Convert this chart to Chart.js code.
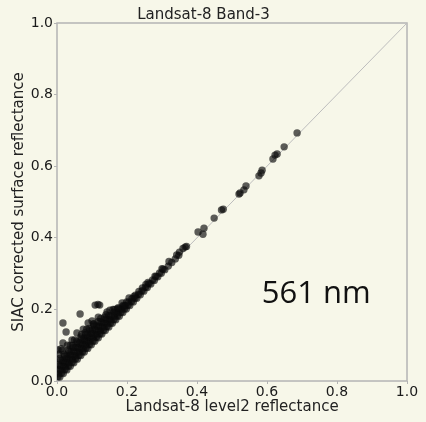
<!DOCTYPE html>
<html>
<head>
<meta charset="utf-8">
<script src="https://cdn.jsdelivr.net/npm/chart.js@4/dist/chart.umd.min.js"></script>
<style>
  html, body { margin: 0; padding: 0; background: #f7f7e9; }
  #wrap { width: 426px; height: 422px; }
</style>
</head>
<body>
<div id="wrap"><canvas id="scatter" width="426" height="422"></canvas></div>
<script>
// Landsat-8 level2 reflectance (x) vs SIAC corrected surface reflectance (y), band 3
// dense band close to the 1:1 line
const bandX = [
  0.008,0.018,0.028,0.038,0.048,0.058,0.068,0.078,0.088,0.098,0.108,0.118,0.128,0.138,0.148,0.158,0.168,
  0.178,0.188,0.198,0.208,0.218,0.228,0.238,0.248,0.258,0.268,0.278,0.288,0.298,0.308,0.318,0.328,0.338,0.348,
  0.003,0.013,0.023,0.033,0.043,0.053,0.063,0.073,0.083,0.093,0.103,0.113,0.123,0.133,0.143,0.153,0.163,
  0.173,0.183,0.193,0.203,0.213,0.223,0.233,0.243,0.253,0.263,0.273,0.283,0.293,0.303,
  0.004,0.014,0.024,0.034,0.044,0.054,0.064,0.074,0.084,0.094,0.104,0.114,0.124,0.134,0.144,0.154,0.164,
  0.174,0.184,0.194,0.204,0.214,0.224,0.234,0.244,0.254,
  0.009,0.019,0.029,0.039,0.049,0.059,0.069,0.079,0.089,0.099,0.109,0.119,0.129,0.139,0.149,0.159,0.169,
  0.179,0.189,0.199,
  0.003,0.013,0.023,0.033,0.043,0.053,0.063,0.073,0.083,0.093,0.103,0.113,0.123,0.133,0.143,0.153,0.163,0.173,
  0.008,0.018,0.028,0.038,0.048,0.058,0.068,0.078,0.088,0.098,0.108,0.118,0.128,0.138,0.148,
  0.004,0.016,0.028,0.040,0.052,0.064,0.076,0.088,0.100,0.112,0.124,0.136,
  0.010,0.022,0.034,0.046,0.058,0.070,0.082,0.094,0.106,0.118,
  0.008,0.020,0.032,0.044,0.056,0.068,0.080,0.092,0.104
];
const bandY = [
  0.011,0.021,0.031,0.041,0.051,0.061,0.071,0.081,0.091,0.101,0.111,0.121,0.131,0.141,0.151,0.161,0.171,
  0.181,0.191,0.201,0.211,0.221,0.231,0.241,0.251,0.261,0.271,0.281,0.291,0.301,0.311,0.321,0.331,0.341,0.351,
  0.012,0.022,0.032,0.042,0.052,0.062,0.072,0.082,0.092,0.102,0.112,0.122,0.132,0.142,0.152,0.162,0.172,
  0.182,0.192,0.202,0.212,0.222,0.232,0.242,0.252,0.262,0.272,0.282,0.292,0.302,0.312,
  0.020,0.030,0.040,0.050,0.060,0.070,0.080,0.090,0.100,0.110,0.120,0.130,0.140,0.150,0.160,0.170,0.180,
  0.190,0.200,0.210,0.220,0.230,0.240,0.250,0.260,0.270,
  0.031,0.041,0.051,0.061,0.071,0.081,0.091,0.101,0.111,0.121,0.131,0.141,0.151,0.161,0.171,0.181,0.191,
  0.201,0.211,0.221,
  0.032,0.042,0.052,0.062,0.072,0.082,0.092,0.102,0.112,0.122,0.132,0.142,0.152,0.162,0.172,0.182,0.192,0.202,
  0.043,0.053,0.063,0.073,0.083,0.093,0.103,0.113,0.123,0.133,0.143,0.153,0.163,0.173,0.183,
  0.046,0.058,0.070,0.082,0.094,0.106,0.118,0.130,0.142,0.154,0.166,0.178,
  0.058,0.070,0.082,0.094,0.106,0.118,0.130,0.142,0.154,0.166,
  0.063,0.075,0.087,0.099,0.111,0.123,0.135,0.147,0.159
];
// scattered points: halo above the band, outliers and the sparse bright pixels
const sparseX = [
  0.005,0.012,0.003,0.017,0.026,0.017,0.043,0.038,0.057,0.066,0.075,0.089,0.100,0.109,0.117,0.122,0.118,
  0.143,0.151,0.160,0.186,0.206,0.190,0.220,0.260,0.280,0.300,0.320,0.342,0.350,0.360,0.366,0.370,
  0.015,0.030,0.050,0.070,0.085,0.105,0.125,0.140,0.165,0.175,
  0.403,0.417,0.420,0.449,0.470,0.475,0.520,0.523,0.534,0.540,0.577,0.583,0.586,0.617,0.623,0.629,0.649,0.686
];
const sparseY = [
  0.075,0.090,0.087,0.106,0.137,0.162,0.115,0.100,0.134,0.187,0.145,0.162,0.168,0.212,0.214,0.212,0.178,
  0.193,0.198,0.200,0.218,0.232,0.208,0.236,0.275,0.293,0.314,0.334,0.352,0.360,0.370,0.374,0.376,
  0.085,0.100,0.115,0.130,0.145,0.160,0.175,0.185,0.200,0.205,
  0.416,0.410,0.427,0.455,0.478,0.480,0.522,0.525,0.534,0.545,0.573,0.581,0.589,0.620,0.631,0.634,0.654,0.693
];
const oneToOne = [0, 1];
const axisTicks = [0, 0.2, 0.4, 0.6, 0.8, 1.0];
const bandLabel = '561 nm';

const points = bandX.map((x, i) => ({ x, y: bandY[i] }))
  .concat(sparseX.map((x, i) => ({ x, y: sparseY[i] })));

const tickFont = { family: 'DejaVu Sans', size: 14 };
const titleFont = { family: 'DejaVu Sans', size: 15, weight: 'normal' };

// box around the plot area + the wavelength label
const frame = {
  id: 'frame',
  beforeDatasetsDraw(chart) {
    const { ctx, chartArea: a } = chart;
    ctx.save();
    ctx.strokeStyle = '#b4b4b4';
    ctx.lineWidth = 1.5;
    ctx.strokeRect(a.left, a.top, a.right - a.left, a.bottom - a.top);
    ctx.restore();
  },
  afterDraw(chart) {
    const { ctx, scales } = chart;
    ctx.save();
    ctx.fillStyle = '#111';
    ctx.font = '31px "Open Sans"';
    ctx.textAlign = 'left';
    ctx.textBaseline = 'alphabetic';
    ctx.fillText(bandLabel, scales.x.getPixelForValue(0.585), scales.y.getPixelForValue(0.218));
    ctx.restore();
  }
};

new Chart(document.getElementById('scatter'), {
  type: 'scatter',
  data: {
    datasets: [
      {
        data: points,
        backgroundColor: 'rgba(10, 10, 10, 0.66)',
        borderWidth: 0,
        pointRadius: 3.7,
        order: 1,
      },
      {
        type: 'line',
        data: oneToOne.map(v => ({ x: v, y: v })),
        borderColor: '#bdbdbd',
        borderWidth: 1,
        pointRadius: 0,
        order: 2,
      },
    ],
  },
  options: {
    responsive: false,
    animation: false,
    layout: { padding: { left: 0, right: 19, top: 0, bottom: 0 } },
    plugins: {
      legend: { display: false },
      tooltip: { enabled: false },
      title: {
        display: true,
        text: 'Landsat-8 Band-3',
        color: '#222',
        font: { ...titleFont, lineHeight: 1 },
        padding: { top: 8, bottom: 0 },
      },
    },
    scales: {
      x: {
        type: 'linear',
        min: 0,
        max: 1,
        afterFit: s => { s.height = 41; },
        afterBuildTicks: s => { s.ticks = axisTicks.map(v => ({ value: v })); },
        grid: { drawOnChartArea: false, tickLength: 3, color: '#b4b4b4' },
        border: { display: false },
        ticks: { color: '#1a1a1a', font: tickFont, padding: 0, maxRotation: 0, autoSkip: false,
          callback: v => v.toFixed(1) },
        title: { display: true, text: 'Landsat-8 level2 reflectance', color: '#222', font: titleFont,
          padding: { top: 0, bottom: 6 } },
      },
      y: {
        type: 'linear',
        min: 0,
        max: 1,
        afterFit: s => { s.width = 57; },
        afterBuildTicks: s => { s.ticks = axisTicks.map(v => ({ value: v })); },
        grid: { drawOnChartArea: false, tickLength: 3, color: '#b4b4b4' },
        border: { display: false },
        ticks: { color: '#1a1a1a', font: tickFont, padding: 1, autoSkip: false,
          callback: v => v.toFixed(1) },
        title: { display: true, text: 'SIAC corrected surface reflectance', color: '#222', font: titleFont,
          padding: { top: 10, bottom: 0 } },
      },
    },
  },
  plugins: [frame],
});
</script>
</body>
</html>
